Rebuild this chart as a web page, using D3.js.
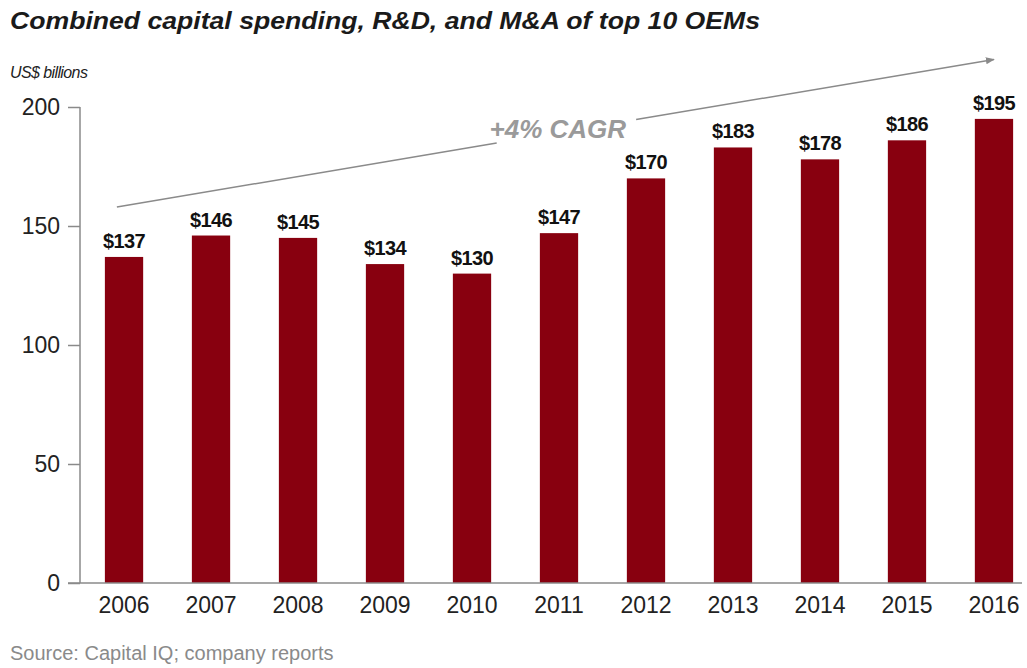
<!DOCTYPE html>
<html>
<head>
<meta charset="utf-8">
<script src="https://cdn.jsdelivr.net/npm/d3@7"></script>
<style>
  html, body { margin: 0; padding: 0; background: #fff; }
  svg { display: block; font-family: "Liberation Sans", Arial, Helvetica, sans-serif; }
</style>
</head>
<body>
<svg id="chart" width="1027" height="668"></svg>
<script>
const years = ["2006","2007","2008","2009","2010","2011","2012","2013","2014","2015","2016"];
const values = [137,146,145,134,130,147,170,183,178,186,195];
const yTicks = [0,50,100,150,200];
const titleText = "Combined capital spending, R&D, and M&A of top 10 OEMs";
const unitText = "US$ billions";
const sourceText = "Source: Capital IQ; company reports";
const cagrText = "+4% CAGR";
const cagrFrom = [158];   // trend value near 2006
const cagrTo = [220];     // trend value at 2016

const svg = d3.select("#chart");
const x = d3.scaleBand().domain(years).range([80, 1038]).paddingInner(0.56).paddingOuter(0.286);
const y = d3.scaleLinear().domain([0, 200]).range([583, 107]);

const axisColor = "#8a8a8a";

// Title
svg.append("text").attr("x", 10).attr("y", 29)
  .attr("font-size", 23).attr("font-weight", "bold").attr("font-style", "italic")
  .attr("textLength", 750).attr("lengthAdjust", "spacingAndGlyphs")
  .attr("fill", "#1a1a1a").text(titleText);

svg.append("text").attr("x", 10).attr("y", 78)
  .attr("font-size", 16).attr("font-style", "italic").attr("letter-spacing", -0.6)
  .attr("fill", "#222").text(unitText);

// Bars
svg.append("g").selectAll("rect").data(values).join("rect")
  .attr("x", (d, i) => x(years[i]))
  .attr("width", x.bandwidth())
  .attr("y", d => y(d))
  .attr("height", d => y(0) - y(d))
  .attr("fill", "#88000f");

// Value labels
svg.append("g").selectAll("text").data(values).join("text")
  .attr("x", (d, i) => x(years[i]) + x.bandwidth() / 2)
  .attr("y", d => y(d) - 9)
  .attr("text-anchor", "middle")
  .attr("font-size", 20).attr("font-weight", "bold").attr("letter-spacing", -0.6)
  .attr("fill", "#111")
  .text(d => "$" + d);

// Y axis
const yAxis = d3.axisLeft(y).tickValues(yTicks).tickSize(12).tickPadding(8);
const gy = svg.append("g").attr("transform", "translate(80,0)").call(yAxis);
gy.select(".domain").attr("stroke", axisColor).attr("stroke-width", 1.5).attr("d", `M0,${y(200)}V${y(0)}`);
gy.selectAll(".tick line").attr("stroke", axisColor).attr("stroke-width", 1.5);
gy.selectAll(".tick text").attr("font-size", 23).attr("fill", "#222")
  .attr("font-family", "Liberation Sans, Arial, sans-serif");

// X axis
const xAxis = d3.axisBottom(x).tickSize(0).tickPadding(14);
const gx = svg.append("g").attr("transform", `translate(0,${y(0)})`).call(xAxis);
gx.select(".domain").attr("stroke", axisColor).attr("stroke-width", 1.5).attr("d", `M68,0H1022`);
gx.selectAll(".tick text").attr("font-size", 23).attr("fill", "#222")
  .attr("font-family", "Liberation Sans, Arial, sans-serif").attr("dy", "0.71em");

// CAGR arrow
const defs = svg.append("defs");
defs.append("marker").attr("id", "arrow").attr("viewBox", "0 0 10 10")
  .attr("refX", 9).attr("refY", 5).attr("markerWidth", 9).attr("markerHeight", 9)
  .attr("markerUnits", "userSpaceOnUse").attr("orient", "auto")
  .append("path").attr("d", "M0,1 L10,5 L0,9 Z").attr("fill", "#8a8a8a");

const x0 = x(years[0]) + 12, y0 = y(cagrFrom[0]);
const x1 = x(years[years.length - 1]) + x.bandwidth() / 2, y1 = y(cagrTo[0]);
const lerp = t => [x0 + (x1 - x0) * t, y0 + (y1 - y0) * t];
const gapA = lerp(0.433), gapB = lerp(0.592);
svg.append("line").attr("x1", x0).attr("y1", y0).attr("x2", gapA[0]).attr("y2", gapA[1])
  .attr("stroke", "#8a8a8a").attr("stroke-width", 1.5);
svg.append("line").attr("x1", gapB[0]).attr("y1", gapB[1]).attr("x2", x1).attr("y2", y1)
  .attr("stroke", "#8a8a8a").attr("stroke-width", 1.5).attr("marker-end", "url(#arrow)");
const mid = lerp(0.505);
svg.append("text").attr("x", mid[0] - 2).attr("y", mid[1] + 6)
  .attr("text-anchor", "middle")
  .attr("font-size", 26).attr("font-weight", "bold").attr("font-style", "italic")
  .attr("fill", "#9a9a9a").text(cagrText);

// Source
svg.append("text").attr("x", 10).attr("y", 660)
  .attr("font-size", 20).attr("fill", "#8a8a8a").attr("letter-spacing", 0).text(sourceText);
</script>
</body>
</html>
